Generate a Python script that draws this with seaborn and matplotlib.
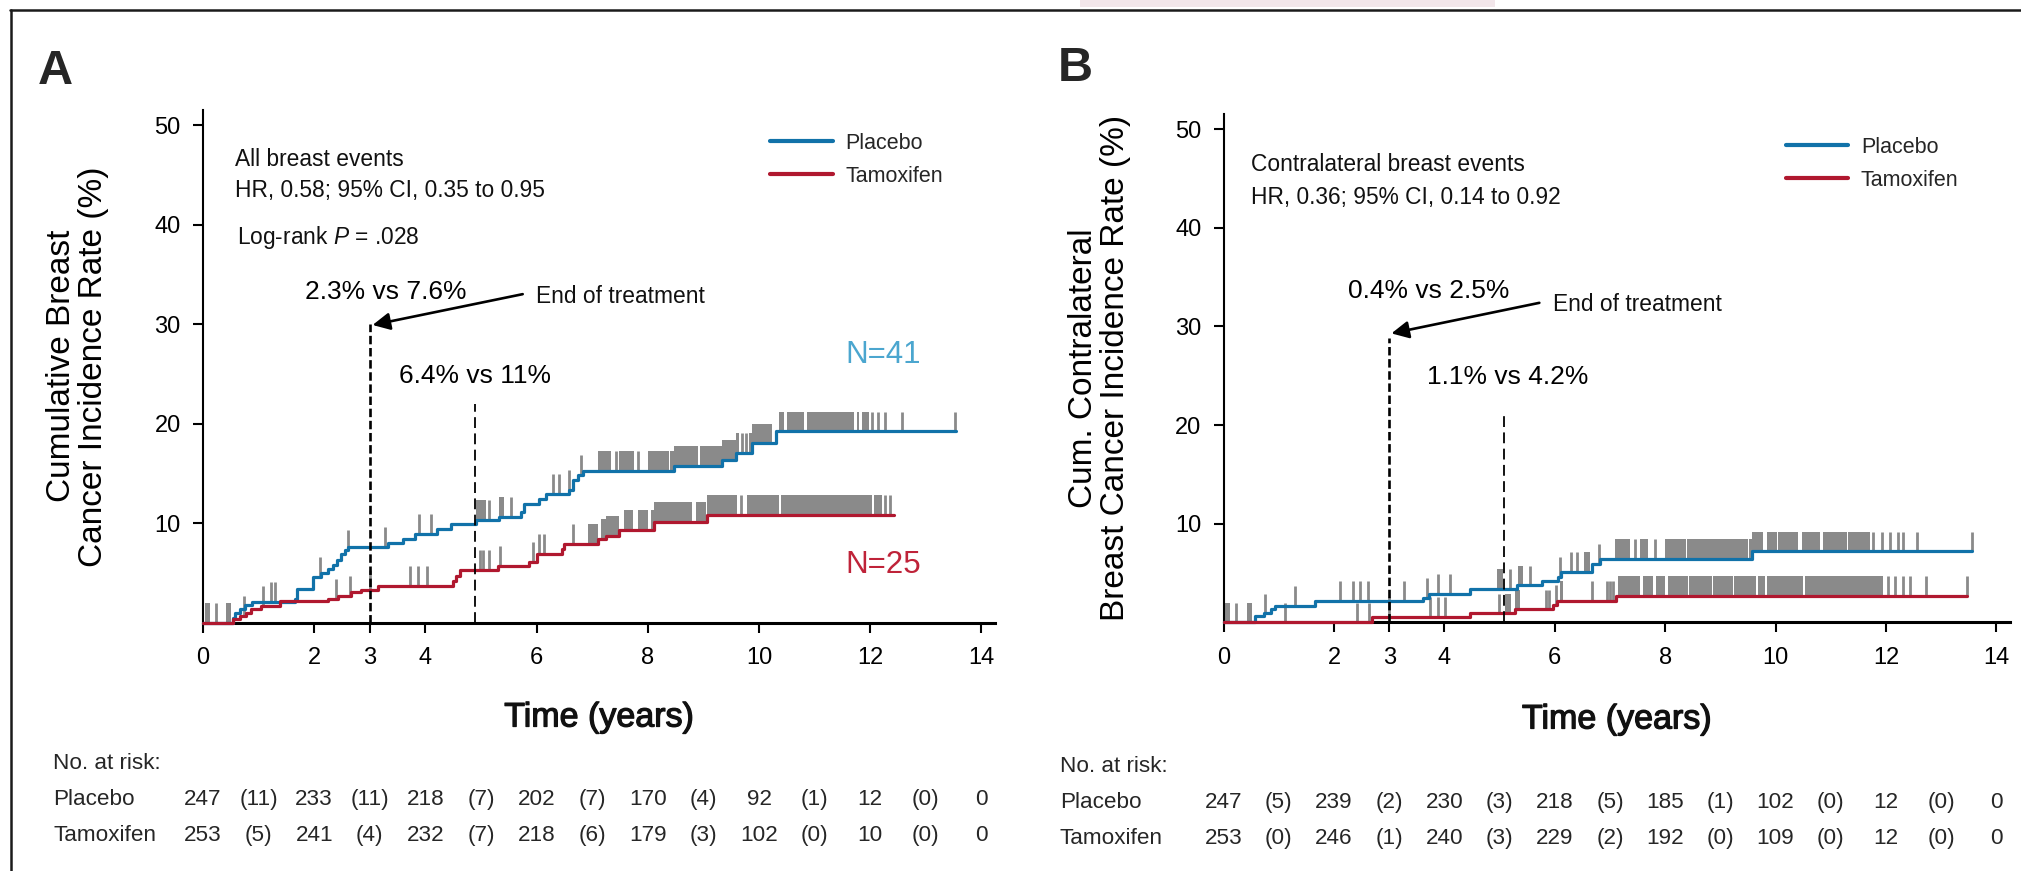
import numpy as np
import pandas as pd
import matplotlib
matplotlib.use("Agg")
import matplotlib.pyplot as plt
import matplotlib.transforms as mtransforms
import matplotlib.patheffects as pe
from matplotlib.lines import Line2D
from matplotlib.patches import Rectangle
import seaborn as sns

# ---------------- data ----------------
YEARS_TICKS = [0, 2, 3, 4, 6, 8, 10, 12, 14]

# Panel A: all breast events (step times in years, cumulative incidence % after each step)
a_placebo_t = [0.54, 0.58, 0.66, 0.75, 0.88, 1.65, 1.69, 1.98, 2.13, 2.25, 2.34, 2.41, 2.49, 2.55,
               2.61, 3.33, 3.60, 3.81, 4.20, 4.46, 4.91, 5.33, 5.72, 5.78, 6.05, 6.17, 6.59, 6.65,
               6.74, 6.83, 8.47, 9.34, 9.58, 9.88, 10.30]
a_placebo_v = [0.5, 1.0, 1.4, 1.75, 2.05, 2.4, 3.4, 4.55, 4.95, 5.4, 5.75, 6.25, 6.9, 7.25,
               7.55, 8.0, 8.4, 8.9, 9.4, 9.9, 10.3, 10.6, 11.1, 11.95, 12.45, 12.95, 13.3, 14.3,
               14.8, 15.2, 15.7, 16.3, 17.0, 18.0, 19.2]
a_placebo_end = 13.55
a_tamox_t = [0.54, 0.66, 0.78, 0.87, 1.05, 1.38, 2.25, 2.43, 2.67, 2.85, 3.15, 4.49, 4.55, 4.63,
             5.30, 5.87, 6.00, 6.45, 6.50, 7.10, 7.25, 7.49, 8.12, 9.07]
a_tamox_v = [0.37, 0.7, 1.0, 1.4, 1.7, 2.15, 2.4, 2.7, 3.05, 3.3, 3.7, 4.2, 4.7, 5.3,
             5.7, 6.1, 6.9, 7.4, 7.9, 8.4, 8.7, 9.3, 10.1, 10.8]
a_tamox_end = 12.42

# censoring marks: single ticks and dense runs (start, end)
a_placebo_cens = [0.23, 1.23, 1.30, 2.10, 2.60, 3.27, 3.88, 4.10, 5.15, 5.54, 6.29, 6.41, 6.59,
                  6.80, 7.43, 7.82, 9.70, 9.76, 12.03, 12.14, 12.27, 12.57, 13.53]
a_placebo_runs = [(0.04, 0.13), (0.42, 0.50), (4.91, 5.09), (5.33, 5.42), (7.10, 7.34),
                  (7.49, 7.76), (8.00, 8.38), (8.40, 8.90), (8.93, 9.31), (9.31, 9.49),
                  (9.49, 9.64), (9.82, 10.24), (10.36, 10.45), (10.51, 10.81), (10.87, 11.71),
                  (11.76, 11.80), (11.86, 11.98)]
a_tamox_cens = [0.73, 1.08, 2.40, 2.64, 3.00, 3.72, 3.87, 4.02, 4.98, 5.04, 5.15, 5.34, 5.93,
                6.05, 6.14, 6.65, 9.67, 12.27, 12.36]
a_tamox_runs = [(6.92, 7.10), (7.16, 7.49), (7.58, 7.73), (7.82, 8.00), (8.06, 8.80),
                (8.86, 9.04), (9.07, 9.60), (9.79, 10.36), (10.39, 12.03), (12.06, 12.22)]

# Panel B: contralateral breast events
b_placebo_t = [0.57, 0.73, 0.85, 0.93, 1.66, 3.62, 3.72, 4.46, 5.31, 5.76, 6.06, 6.12, 6.67,
               6.82, 9.57]
b_placebo_v = [0.6, 0.9, 1.3, 1.7, 2.15, 2.5, 2.9, 3.4, 3.75, 4.2, 4.6, 5.1, 5.9,
               6.4, 7.2]
b_placebo_end = 13.55
b_tamox_t = [2.68, 4.46, 5.28, 5.97, 6.04, 7.10]
b_tamox_v = [0.55, 0.9, 1.3, 1.75, 2.2, 2.65]
b_tamox_end = 13.46

b_placebo_cens = [0.23, 0.75, 1.29, 2.11, 2.34, 2.47, 2.61, 3.27, 3.68, 3.89, 4.11, 5.19, 5.55,
                  6.09, 6.29, 6.40, 6.80, 7.45, 7.82, 11.77, 11.93, 12.08, 12.22, 12.30, 12.56,
                  13.55]
b_placebo_runs = [(0.02, 0.12), (0.43, 0.51), (4.95, 5.07), (5.34, 5.43), (6.52, 6.64),
                  (7.09, 7.36), (7.54, 7.69), (7.99, 8.37), (8.40, 9.50), (9.52, 9.78),
                  (9.84, 10.02), (10.05, 10.41), (10.47, 10.80), (10.86, 11.29), (11.32, 11.71)]
b_tamox_cens = [1.11, 2.42, 2.64, 3.00, 3.74, 3.89, 4.01, 4.99, 5.84, 5.90, 6.03, 6.67, 6.94,
                7.00, 7.06, 12.04, 12.16, 12.31, 12.43, 12.73, 13.46]
b_tamox_runs = [(5.09, 5.21), (5.28, 5.37), (6.09, 6.15), (7.15, 7.54), (7.60, 7.78),
                (7.84, 7.99), (8.05, 8.41), (8.43, 8.84), (8.87, 9.23), (9.25, 9.65),
                (9.68, 9.80), (9.84, 10.50), (10.53, 11.95)]

# numbers at risk (even years) and events in each 2-year window (odd years)
a_risk_placebo = [247, 233, 218, 202, 170, 92, 12, 0]
a_events_placebo = [11, 11, 7, 7, 4, 1, 0]
a_risk_tamox = [253, 241, 232, 218, 179, 102, 10, 0]
a_events_tamox = [5, 4, 7, 6, 3, 0, 0]
b_risk_placebo = [247, 239, 230, 218, 185, 102, 12, 0]
b_events_placebo = [5, 2, 3, 5, 1, 0, 0]
b_risk_tamox = [253, 246, 240, 229, 192, 109, 12, 0]
b_events_tamox = [0, 1, 3, 2, 0, 0, 0]

ARMS = ["Placebo", "Tamoxifen"]

# ---------------- style ----------------
BLUE = "#1172a9"
RED = "#b0182f"
BLUE_TXT = "#4ba6cf"
RED_TXT = "#bf2339"
GREY = "#8a8a8a"
CENS_H = 2.0

sns.set_theme(style="ticks")
plt.rcParams["font.family"] = ["Liberation Sans", "DejaVu Sans"]
plt.rcParams["mathtext.fontset"] = "custom"
plt.rcParams["mathtext.rm"] = "Liberation Sans"
plt.rcParams["mathtext.it"] = "Liberation Sans:italic"

W, H = 2021, 871
fig = plt.figure(figsize=(W / 100, H / 100), dpi=100)
fig.patch.set_facecolor("white")


def step_eval(ts, vs, t):
    i = np.searchsorted(ts, t, side="right") - 1
    return 0.0 if i < 0 else vs[i]


def curve_frame(ts, vs, end, arm):
    x = [0.0] + list(ts) + [end]
    y = [0.0] + list(vs) + [vs[-1]]
    return pd.DataFrame({"time": x, "rate": y, "arm": arm})


def draw_censoring(ax, ts, vs, singles, runs):
    for t in singles:
        v = step_eval(ts, vs, t)
        ax.vlines(t, v, v + CENS_H, color=GREY, lw=2.0, zorder=2)
    for a, b in runs:
        inner = [t for t in ts if a < t < b]
        xs = [a] + inner + [b]
        ys = np.array([step_eval(ts, vs, x) for x in xs])
        ax.fill_between(xs, ys, ys + CENS_H, step="post", color=GREY, lw=0, zorder=2)


def style_axes(ax, ymax):
    ax.set_xlim(0, 14.25)
    ax.set_ylim(0, ymax)
    ax.set_xticks(YEARS_TICKS)
    ax.set_yticks([10, 20, 30, 40, 50])
    sns.despine(ax=ax)
    ax.spines["left"].set_linewidth(1.5)
    ax.spines["bottom"].set_linewidth(2.2)
    ax.spines["left"].set_color("black")
    ax.spines["bottom"].set_color("black")
    ax.tick_params(axis="both", direction="out", length=7, width=1.5, labelsize=17,
                   colors="black")
    ax.tick_params(axis="x", pad=10.5)
    ax.tick_params(axis="y", pad=9)
    ax.set_facecolor("white")


def panel(ax, pl, tm, ymax, ylabel, xlab_y, texts, risk, risk_x, risk_y, letter, letter_xy):
    (pt, pv, pend, pc, pr) = pl
    (tt, tv, tend, tc, tr) = tm
    df = pd.concat([curve_frame(pt, pv, pend, ARMS[0]), curve_frame(tt, tv, tend, ARMS[1])])
    draw_censoring(ax, pt, pv, pc, pr)
    draw_censoring(ax, tt, tv, tc, tr)
    sns.lineplot(data=df, x="time", y="rate", hue="arm", hue_order=ARMS,
                 palette={ARMS[0]: BLUE, ARMS[1]: RED}, estimator=None, sort=False,
                 drawstyle="steps-post", linewidth=2.3, legend=False, ax=ax,
                 zorder=3, clip_on=False)
    style_axes(ax, ymax)
    ax.set_xlabel("Time (years)", fontsize=24.5, color="#111111")
    ax.xaxis.label.set_path_effects([pe.withStroke(linewidth=0.9, foreground="#111111")])
    ax.xaxis.set_label_coords(0.5, xlab_y)
    ax.xaxis.label.set_va("center")
    ax.set_ylabel(ylabel, fontsize=24, linespacing=1.05, color="black")
    ax.yaxis.set_label_coords(-0.158, 0.5)
    ax.yaxis.label.set_va("center")

    for kind, args in texts:
        if kind == "text":
            x, y, s, size, color = args
            ax.text(x, y, s, fontsize=size, color=color, ha="left", va="center", zorder=5)
        elif kind == "arrow":
            (x0, y0), (x1, y1) = args
            ax.annotate("", xy=(x1, y1), xytext=(x0, y0),
                        arrowprops=dict(arrowstyle="-|>", lw=1.9, color="black",
                                        mutation_scale=26, shrinkA=0, shrinkB=0), zorder=5)
        elif kind == "vline":
            x, top, lw, dash = args
            ax.plot([x, x], [0, top], color="black", lw=lw, ls=(0, dash), zorder=4,
                    clip_on=False)
        elif kind == "legend":
            x, y = args
            handles = [Line2D([], [], color=BLUE, lw=3.0), Line2D([], [], color=RED, lw=3.0)]
            ax.legend(handles, ARMS, loc="center left", bbox_to_anchor=(x, y),
                      bbox_transform=ax.transData, frameon=False, handlelength=2.9,
                      handletextpad=0.6, labelspacing=0.55, borderpad=0, borderaxespad=0,
                      fontsize=15.5)

    # numbers at risk
    trans = mtransforms.blended_transform_factory(ax.transData, fig.transFigure)
    fig.text(risk_x / W, 1 - risk_y[0] / H, "No. at risk:", fontsize=16.2, ha="left",
             va="center")
    for row, (name, counts, events) in enumerate(risk):
        yy = 1 - risk_y[row + 1] / H
        fig.text(risk_x / W, yy, name, fontsize=16.2, ha="left", va="center")
        for i in range(15):
            s = str(counts[i // 2]) if i % 2 == 0 else "(%d)" % events[i // 2]
            ax.text(i, yy, s, transform=trans, fontsize=16.2, ha="center", va="center",
                    clip_on=False)
    fig.text(letter_xy[0] / W, 1 - letter_xy[1] / H, letter, fontsize=35, fontweight="bold",
             ha="left", va="top")


axA = fig.add_axes([203 / W, (H - 622.5) / H, 14.25 * 55.6 / W, 51.5 * 9.95 / H])
axB = fig.add_axes([1223.6 / W, (H - 622.3) / H, 14.25 * 55.2 / W, 51.55 * 9.86 / H])

panel(
    axA,
    (a_placebo_t, a_placebo_v, a_placebo_end, a_placebo_cens, a_placebo_runs),
    (a_tamox_t, a_tamox_v, a_tamox_end, a_tamox_cens, a_tamox_runs),
    51.5,
    "Cumulative Breast\nCancer Incidence Rate (%)",
    -(718 - 622.5) / 512.4,
    [
        ("text", (0.58, 46.5, "All breast events", 16.4, "#111111")),
        ("text", (0.58, 43.4, "HR, 0.58; 95% CI, 0.35 to 0.95", 16.4, "#111111")),
        ("text", (0.61, 38.7, "Log-rank $P$ = .028", 16.4, "#111111")),
        ("text", (1.83, 33.2, "2.3% vs 7.6%", 19, "black")),
        ("text", (5.99, 32.8, "End of treatment", 16.4, "#111111")),
        ("arrow", ((5.75, 33.0), (3.05, 29.9))),
        ("vline", (3.0, 30.0, 1.9, (3.2, 1.4))),
        ("text", (3.53, 24.8, "6.4% vs 11%", 19, "black")),
        ("vline", (4.9, 22.0, 1.3, (6.0, 3.0))),
        ("text", (11.55, 26.9, "N=41", 22.5, BLUE_TXT)),
        ("text", (11.55, 5.8, "N=25", 22.5, RED_TXT)),
        ("legend", (10.2, 46.5)),
    ],
    [("Placebo", a_risk_placebo, a_events_placebo), ("Tamoxifen", a_risk_tamox, a_events_tamox)],
    53, [763, 799.3, 835],
    "A", (38, 49),
)

panel(
    axB,
    (b_placebo_t, b_placebo_v, b_placebo_end, b_placebo_cens, b_placebo_runs),
    (b_tamox_t, b_tamox_v, b_tamox_end, b_tamox_cens, b_tamox_runs),
    51.55,
    "Cum. Contralateral\nBreast Cancer Incidence Rate (%)",
    -(720 - 622.3) / 508.3,
    [
        ("text", (0.5, 46.4, "Contralateral breast events", 16.4, "#111111")),
        ("text", (0.5, 43.1, "HR, 0.36; 95% CI, 0.14 to 0.92", 16.4, "#111111")),
        ("text", (2.25, 33.6, "0.4% vs 2.5%", 19, "black")),
        ("text", (5.96, 32.2, "End of treatment", 16.4, "#111111")),
        ("arrow", ((5.72, 32.4), (3.04, 29.3))),
        ("vline", (3.0, 28.8, 1.9, (3.2, 1.4))),
        ("text", (3.69, 24.9, "1.1% vs 4.2%", 19, "black")),
        ("vline", (5.08, 21.0, 1.3, (6.0, 3.0))),
        ("legend", (10.18, 46.5)),
    ],
    [("Placebo", b_risk_placebo, b_events_placebo), ("Tamoxifen", b_risk_tamox, b_events_tamox)],
    1060, [766.7, 802.7, 838.3],
    "B", (1058, 46),
)

# outer frame of the figure and the faint strip along the top edge
fig.add_artist(Rectangle((1080 / W, 1 - 7 / H), 415 / W, 7 / H, transform=fig.transFigure,
                         facecolor="#f2e6ea", edgecolor="none"))
fig.add_artist(Line2D([10 / W, 1], [1 - 10 / H, 1 - 10 / H], transform=fig.transFigure,
                      color="#1a1a1a", lw=1.8))
fig.add_artist(Line2D([11 / W, 11 / W], [0, 1 - 10 / H], transform=fig.transFigure,
                      color="#1a1a1a", lw=1.8))

fig.savefig("out.png", dpi=100, facecolor="white")
